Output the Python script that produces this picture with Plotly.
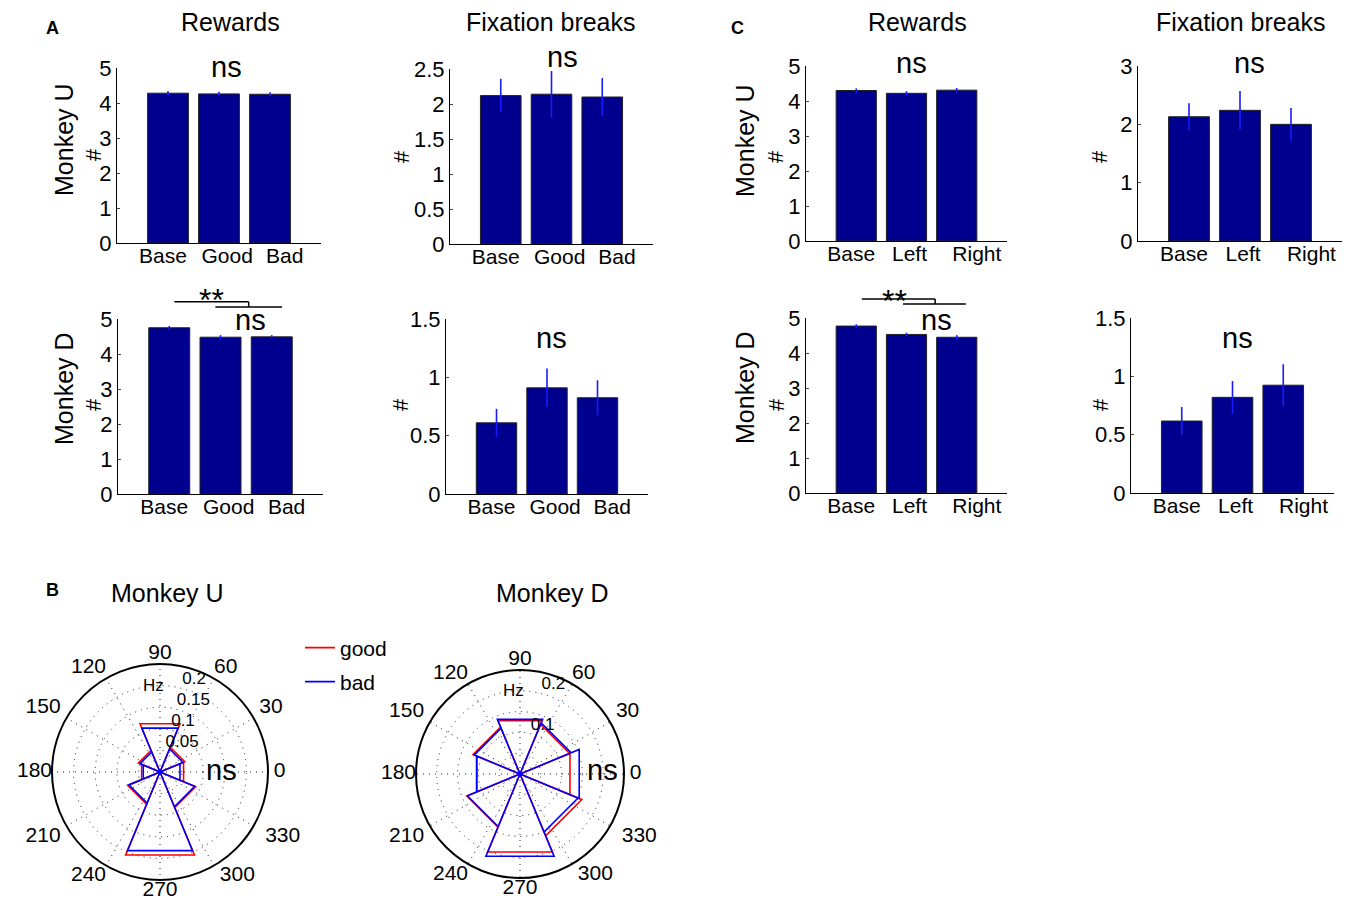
import plotly.graph_objects as go

W, H = 1357, 905
FONT = "Liberation Sans, Arial, sans-serif"

# ---------------- data ----------------
cats_A = ["Base", "Good", "Bad"]
cats_C = ["Base", "Left", "Right"]
# label placement offsets (category units) as in the original figure
lab_shift_A = [-0.1, 0.16, 0.29]
lab_shift_C = [-0.1, 0.06, 0.4]

rewards_U_A = [4.28, 4.26, 4.25]
rewards_U_A_err = [0.06, 0.06, 0.06]
fix_U_A = [2.12, 2.14, 2.10]
fix_U_A_err = [0.24, 0.33, 0.27]
rewards_D_A = [4.75, 4.48, 4.49]
rewards_D_A_err = [0.05, 0.06, 0.05]
fix_D_A = [0.61, 0.91, 0.825]
fix_D_A_err = [0.12, 0.165, 0.15]

rewards_U_C = [4.30, 4.22, 4.31]
rewards_U_C_err = [0.06, 0.06, 0.06]
fix_U_C = [2.13, 2.24, 2.00]
fix_U_C_err = [0.23, 0.33, 0.28]
rewards_D_C = [4.77, 4.53, 4.45]
rewards_D_C_err = [0.05, 0.05, 0.06]
fix_D_C = [0.617, 0.82, 0.924]
fix_D_C_err = [0.12, 0.14, 0.18]

rose_bins = [0, 45, 90, 135, 180, 225, 270, 315]
rose_U_good = [0.059, 0.062, 0.121, 0.054, 0.046, 0.081, 0.208, 0.089]
rose_U_bad = [0.050, 0.058, 0.110, 0.050, 0.042, 0.078, 0.197, 0.087]
rose_D_good = [0.130, 0.129, 0.139, 0.122, 0.112, 0.138, 0.203, 0.161]
rose_D_bad = [0.154, 0.133, 0.142, 0.119, 0.113, 0.137, 0.214, 0.151]

angle_ticks = list(range(0, 360, 30))
radial_ticks_U = [0.05, 0.1, 0.15, 0.2]
radial_ticks_D = [0.1, 0.2]

# extra spacing (in nbsp) between circle and some angle labels
angle_label_pad = {0: 1, 30: 1, 150: 1, 210: 1, 300: 1, 330: 2}

# ---------------- helpers ----------------
def px(x, y):
    return x / W, 1 - y / H

BAR_COLOR = "#00008F"

fig = go.Figure()

panels = [
    # (n, xpix, ypix, ymax, ytickvals, values, errors, cats, label shifts)
    (1, (117, 321), (68, 243), 5, [0, 1, 2, 3, 4, 5], rewards_U_A, rewards_U_A_err, cats_A, lab_shift_A),
    (2, (450, 653), (69, 244), 2.5, [0, 0.5, 1, 1.5, 2, 2.5], fix_U_A, fix_U_A_err, cats_A, lab_shift_A),
    (3, (118, 323), (319, 494), 5, [0, 1, 2, 3, 4, 5], rewards_D_A, rewards_D_A_err, cats_A, lab_shift_A),
    (4, (446, 648), (319, 494), 1.5, [0, 0.5, 1, 1.5], fix_D_A, fix_D_A_err, cats_A, lab_shift_A),
    (5, (806, 1007), (66, 241), 5, [0, 1, 2, 3, 4, 5], rewards_U_C, rewards_U_C_err, cats_C, lab_shift_C),
    (6, (1138, 1342), (66, 241), 3, [0, 1, 2, 3], fix_U_C, fix_U_C_err, cats_C, lab_shift_C),
    (7, (806, 1007), (318, 493), 5, [0, 1, 2, 3, 4, 5], rewards_D_C, rewards_D_C_err, cats_C, lab_shift_C),
    (8, (1131, 1334), (318, 493), 1.5, [0, 0.5, 1, 1.5], fix_D_C, fix_D_C_err, cats_C, lab_shift_C),
]

layout = dict(
    width=W, height=H, margin=dict(l=0, r=0, t=0, b=0, autoexpand=False),
    paper_bgcolor="white", plot_bgcolor="white",
    font=dict(family=FONT, color="black"),
    showlegend=True,
)

xpos = [1, 2, 3]
for n, (x0, x1), (y0, y1), ymax, yt, vals, errs, cats, shifts in panels:
    sfx = "" if n == 1 else str(n)
    fig.add_trace(go.Bar(
        x=xpos, y=vals, width=0.8,
        marker=dict(color=BAR_COLOR, line=dict(color="#222222", width=1)),
        error_y=dict(type="data", array=errs, color="#1a1aff", thickness=1.6, width=0),
        xaxis="x" + sfx, yaxis="y" + sfx, showlegend=False, hoverinfo="skip",
    ))
    layout["xaxis" + sfx] = dict(
        domain=[x0 / W, x1 / W], anchor="y" + sfx, range=[0, 4],
        tickvals=[p + s for p, s in zip(xpos, shifts)], ticktext=cats, tickangle=0,
        ticklabelstandoff=-6,
        showline=True, linecolor="black", linewidth=1, ticks="",
        showgrid=False, zeroline=False, tickfont=dict(size=21, family=FONT),
    )
    layout["yaxis" + sfx] = dict(
        domain=[1 - y1 / H, 1 - y0 / H], anchor="x" + sfx, range=[0, ymax],
        tickvals=yt, ticktext=[("%g" % v) for v in yt],
        showline=True, linecolor="black", linewidth=1, ticks="inside", ticklen=3,
        showgrid=False, zeroline=False, tickfont=dict(size=22, family=FONT),
    )

# ---------------- polar rose plots ----------------
def rose_path(bins, radii, width=45.0):
    r, th = [], []
    for c, v in zip(bins, radii):
        r += [0, v, v, 0]
        th += [c, c - width / 2, c + width / 2, c]
    return r, th

def outward_position(a):
    v = "top" if 0 < a < 180 else ("bottom" if 180 < a < 360 else "middle")
    h = "right" if (a < 90 or a > 270) else ("left" if 90 < a < 270 else "center")
    return v + " " + h

def angle_label(a):
    p = "\u00a0" * angle_label_pad.get(a, 0)
    if a < 90 or a > 270:
        return p + str(a)
    if 90 < a < 270:
        return str(a) + p
    return str(a)

RMAX_U, RMAX_D = 0.25, 0.25

for pid, good, bad, show, rticks, rmax in (
        ("polar", rose_U_good, rose_U_bad, True, radial_ticks_U, RMAX_U),
        ("polar2", rose_D_good, rose_D_bad, False, radial_ticks_D, RMAX_D)):
    rg, tg = rose_path(rose_bins, good)
    rb, tb = rose_path(rose_bins, bad)
    fig.add_trace(go.Scatterpolar(r=rg, theta=tg, mode="lines", name="good",
                                  line=dict(color="#ff0000", width=1.6), hoverinfo="skip",
                                  subplot=pid, showlegend=show, legend="legend"))
    fig.add_trace(go.Scatterpolar(r=rb, theta=tb, mode="lines", name="bad",
                                  line=dict(color="#0000ff", width=1.6), hoverinfo="skip",
                                  subplot=pid, showlegend=show, legend="legend2"))
    # angle labels sitting just outside the outer circle
    fig.add_trace(go.Scatterpolar(r=[rmax] * len(angle_ticks), theta=angle_ticks,
                                  text=[angle_label(a) for a in angle_ticks], mode="text",
                                  textposition=[outward_position(a) for a in angle_ticks],
                                  cliponaxis=False,
                                  textfont=dict(size=21, family=FONT, color="black"),
                                  subplot=pid, showlegend=False, hoverinfo="skip"))
    # radial labels along the ~80 degree direction
    fig.add_trace(go.Scatterpolar(r=rticks, theta=[75] * len(rticks),
                                  text=[("%g" % v) for v in rticks], mode="text",
                                  textposition="top right", cliponaxis=False,
                                  textfont=dict(size=17, family=FONT, color="black"),
                                  subplot=pid, showlegend=False, hoverinfo="skip"))

GRID_DASH = "1px,5px"

def polar_layout(cx, cy, R, rmax):
    return dict(
        domain=dict(x=[(cx - R) / W, (cx + R) / W], y=[1 - (cy + R) / H, 1 - (cy - R) / H]),
        bgcolor="white",
        angularaxis=dict(rotation=0, direction="counterclockwise",
                         tickvals=angle_ticks, showticklabels=False,
                         showline=True, linecolor="black", linewidth=2, ticks="",
                         gridcolor="#222222", griddash=GRID_DASH, gridwidth=1),
        radialaxis=dict(range=[0, rmax], tickvals=[0.05, 0.1, 0.15, 0.2, 0.25],
                        showticklabels=False, angle=80, showline=False, ticks="",
                        gridcolor="#222222", griddash=GRID_DASH, gridwidth=1),
    )

layout["polar"] = polar_layout(160, 772, 108, RMAX_U)
layout["polar2"] = polar_layout(520, 774, 104, RMAX_D)

lx, ly = px(300, 648)
layout["legend"] = dict(x=lx, y=ly, xanchor="left", yanchor="middle",
                        font=dict(size=21, family=FONT), bgcolor="rgba(0,0,0,0)")
lx, ly = px(300, 682)
layout["legend2"] = dict(x=lx, y=ly, xanchor="left", yanchor="middle",
                         font=dict(size=21, family=FONT), bgcolor="rgba(0,0,0,0)")

# ---------------- annotations ----------------
anns = []
def ann(text, x, y, size, angle=0, bold=False):
    ax, ay = px(x, y)
    t = "<b>%s</b>" % text if bold else text
    anns.append(dict(text=t, x=ax, y=ay, xref="paper", yref="paper", showarrow=False,
                     textangle=angle, font=dict(size=size, family=FONT, color="black"),
                     xanchor="center", yanchor="middle"))

ann("A", 52, 28, 18, bold=True)
ann("C", 737, 28, 18, bold=True)
ann("B", 52, 590, 18, bold=True)
for x in (230, 917):
    ann("Rewards", x, 22, 25)
for x in (551, 1241):
    ann("Fixation breaks", x, 22, 25)
ann("Monkey U", 64, 140, 25, angle=-90)
ann("Monkey D", 64, 389, 25, angle=-90)
ann("Monkey U", 745, 140, 25, angle=-90)
ann("Monkey D", 745, 387, 25, angle=-90)
for x, y in ((93, 155), (402, 157), (93, 405), (400, 405),
             (776, 157), (776, 405), (1100, 157), (1100, 405)):
    ann("#", x, y, 22, angle=-90)
# ns labels over bar panels
for x, y in ((226, 67), (562, 57), (551, 338), (911, 63), (1249, 63), (1237, 338)):
    ann("ns", x, y, 29)
# polar titles and labels
ann("Monkey U", 167, 593, 25)
ann("Monkey D", 552, 593, 25)
ann("Hz", 153, 685, 17)
ann("Hz", 513, 690, 17)
ann("ns", 222, 770, 29)
ann("ns", 602, 770, 29)

# significance brackets (data units of the panel, mapped to axis-domain fractions)
shapes = []
def bracket(n, ymax, x1a, x1b, y1, x2a, x2b, y2, xdrop, star_x, star_y, ns_x, ns_y):
    sfx = str(n)
    xr, yr = "x%s domain" % sfx, "y%s domain" % sfx
    def seg(xa, ya, xb, yb):
        shapes.append(dict(type="line", xref=xr, yref=yr,
                           x0=xa / 4, x1=xb / 4, y0=ya / ymax, y1=yb / ymax,
                           line=dict(color="black", width=1.5)))
    seg(x1a, y1, x1b, y1)
    seg(xdrop, y1, xdrop, y2)
    seg(x2a, y2, x2b, y2)
    anns.append(dict(text="**", x=star_x / 4, y=star_y / ymax, xref=xr, yref=yr,
                     xanchor="center", yanchor="middle",
                     showarrow=False, font=dict(size=32, family=FONT)))
    anns.append(dict(text="ns", x=ns_x / 4, y=ns_y / ymax, xref=xr, yref=yr,
                     xanchor="center", yanchor="middle",
                     showarrow=False, font=dict(size=29, family=FONT)))

bracket(3, 5, 1.1, 2.55, 5.49, 1.9, 3.2, 5.34, 2.55, 1.83, 5.54, 2.58, 4.97)
bracket(7, 5, 1.11, 2.57, 5.54, 1.93, 3.18, 5.40, 2.57, 1.77, 5.49, 2.59, 4.94)

layout["annotations"] = anns
layout["shapes"] = shapes
fig.update_layout(**layout)
fig.write_html("out.html")
